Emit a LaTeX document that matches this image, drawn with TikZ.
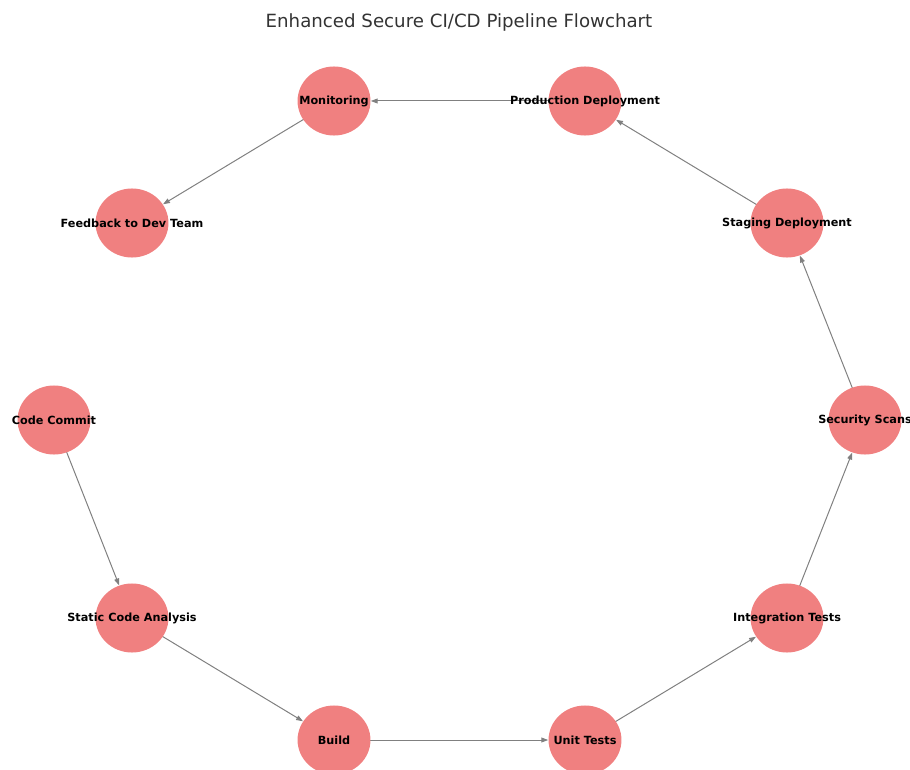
\documentclass[tikz,border=0pt]{standalone}
\usepackage{fontspec}
\setmainfont{DejaVu Sans}
\usetikzlibrary{shapes.geometric,arrows.meta,backgrounds}
\definecolor{nodecol}{HTML}{F08080}
\definecolor{edgecol}{HTML}{808080}
\definecolor{titlecol}{HTML}{333333}
\newcommand{\lbl}[1]{\makebox[0pt][c]{#1}}
\begin{document}
\begin{tikzpicture}[x=0.72pt,y=-0.72pt,
  stage/.style={ellipse, fill=nodecol, minimum width=52.5pt, minimum height=49.7pt, inner sep=0pt,
    font=\fontsize{8.1}{9.6}\selectfont\bfseries, text=black},
  flow/.style={draw=edgecol, line width=0.72pt, -{Triangle[length=5pt,width=3.5pt]}}]
\useasboundingbox (0,0) rectangle (910,769);
\node[font=\fontsize{13.1}{15}\selectfont, text=titlecol] (title) at (459,22) {Enhanced Secure CI/CD Pipeline Flowchart};
\node[stage] (mon)  at (334,101) {\lbl{Monitoring}};
\node[stage] (prod) at (585,101) {\lbl{Production Deployment}};
\node[stage] (fb)   at (132,223) {\lbl{Feedback to Dev Team}};
\node[stage] (stag) at (787,223) {\lbl{Staging Deployment}};
\node[stage] (cc)   at (54,420)  {\lbl{Code Commit}};
\node[stage] (sec)  at (865,420) {\lbl{Security Scans}};
\node[stage] (sca)  at (132,618) {\lbl{Static Code Analysis}};
\node[stage] (it)   at (787,618) {\lbl{Integration Tests}};
\node[stage] (bld)  at (334,740) {\lbl{Build}};
\node[stage] (ut)   at (585,740) {\lbl{Unit Tests}};
\begin{scope}[on background layer]
\draw[flow] (cc.center) -- (sca);
\draw[flow] (sca.center) -- (bld);
\draw[flow] (bld.center) -- (ut);
\draw[flow] (ut.center) -- (it);
\draw[flow] (it.center) -- (sec);
\draw[flow] (sec.center) -- (stag);
\draw[flow] (stag.center) -- (prod);
\draw[flow] (prod.center) -- (mon);
\draw[flow] (mon.center) -- (fb);
\end{scope}
\end{tikzpicture}
\end{document}
